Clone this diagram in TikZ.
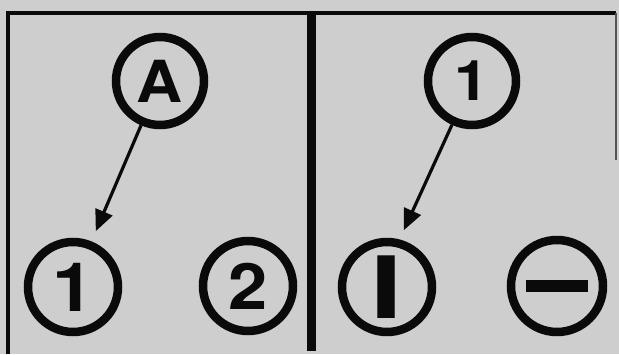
\documentclass[tikz,border=0pt]{standalone}
\usepackage{fontspec}
\usepackage{graphicx}
\setmainfont{TeX Gyre Heros}
\usetikzlibrary{arrows.meta}
\definecolor{bg}{RGB}{206,206,206}
\definecolor{ink}{RGB}{10,10,10}
\tikzset{
  ring/.style={circle, draw=ink, line width=8.5pt, minimum size=88pt, inner sep=0pt, text=ink, font=\bfseries},
  frameline/.style={draw=ink, line width=4.5pt},
  pointer/.style={draw=ink, line width=3.2pt, -{Triangle[length=21pt,width=18pt]}, shorten >=2pt}
}
\begin{document}
\begin{tikzpicture}[x=1pt,y=-1pt]
\fill[bg] (0,0) rectangle (619,354);
\useasboundingbox (0,0) rectangle (619,354);
% frames
\draw[frameline] (8,354) -- (8,13) -- (616,13);
\draw[draw=ink, line width=9pt] (311.5,13) -- (311.5,351);
\draw[draw=ink!70, line width=2.5pt] (616,13) -- (616,160);
% left panel
\node[ring, font=\fontsize{58}{58}\selectfont\bfseries] (A) at (160,81) {\scalebox{1.1}[1]{A}};
\node[ring, minimum size=90pt, font=\fontsize{68}{68}\selectfont\bfseries] (L1) at (73,287) {\scalebox{1.1}[1]{1}};
\node[ring, minimum size=90pt, font=\fontsize{64}{64}\selectfont\bfseries] (L2) at (248,286) {\scalebox{1.1}[1]{2}};
\draw[pointer] (A) -- (95,233) coordinate (ta);
% right panel
\node[ring, minimum size=88pt, font=\fontsize{56}{56}\selectfont\bfseries] (R1) at (472,81) {\scalebox{1.1}[1]{1}};
\node[ring, minimum size=90pt, font=\fontsize{86}{86}\selectfont\bfseries] (RI) at (387,287) {\scalebox{1.35}[1]{I}};
\node[ring, minimum size=92pt] (RM) at (557,286) {\rule[-6pt]{62pt}{12.5pt}};
\draw[pointer] (R1) -- (403,232) coordinate (tb);
\end{tikzpicture}
\end{document}
